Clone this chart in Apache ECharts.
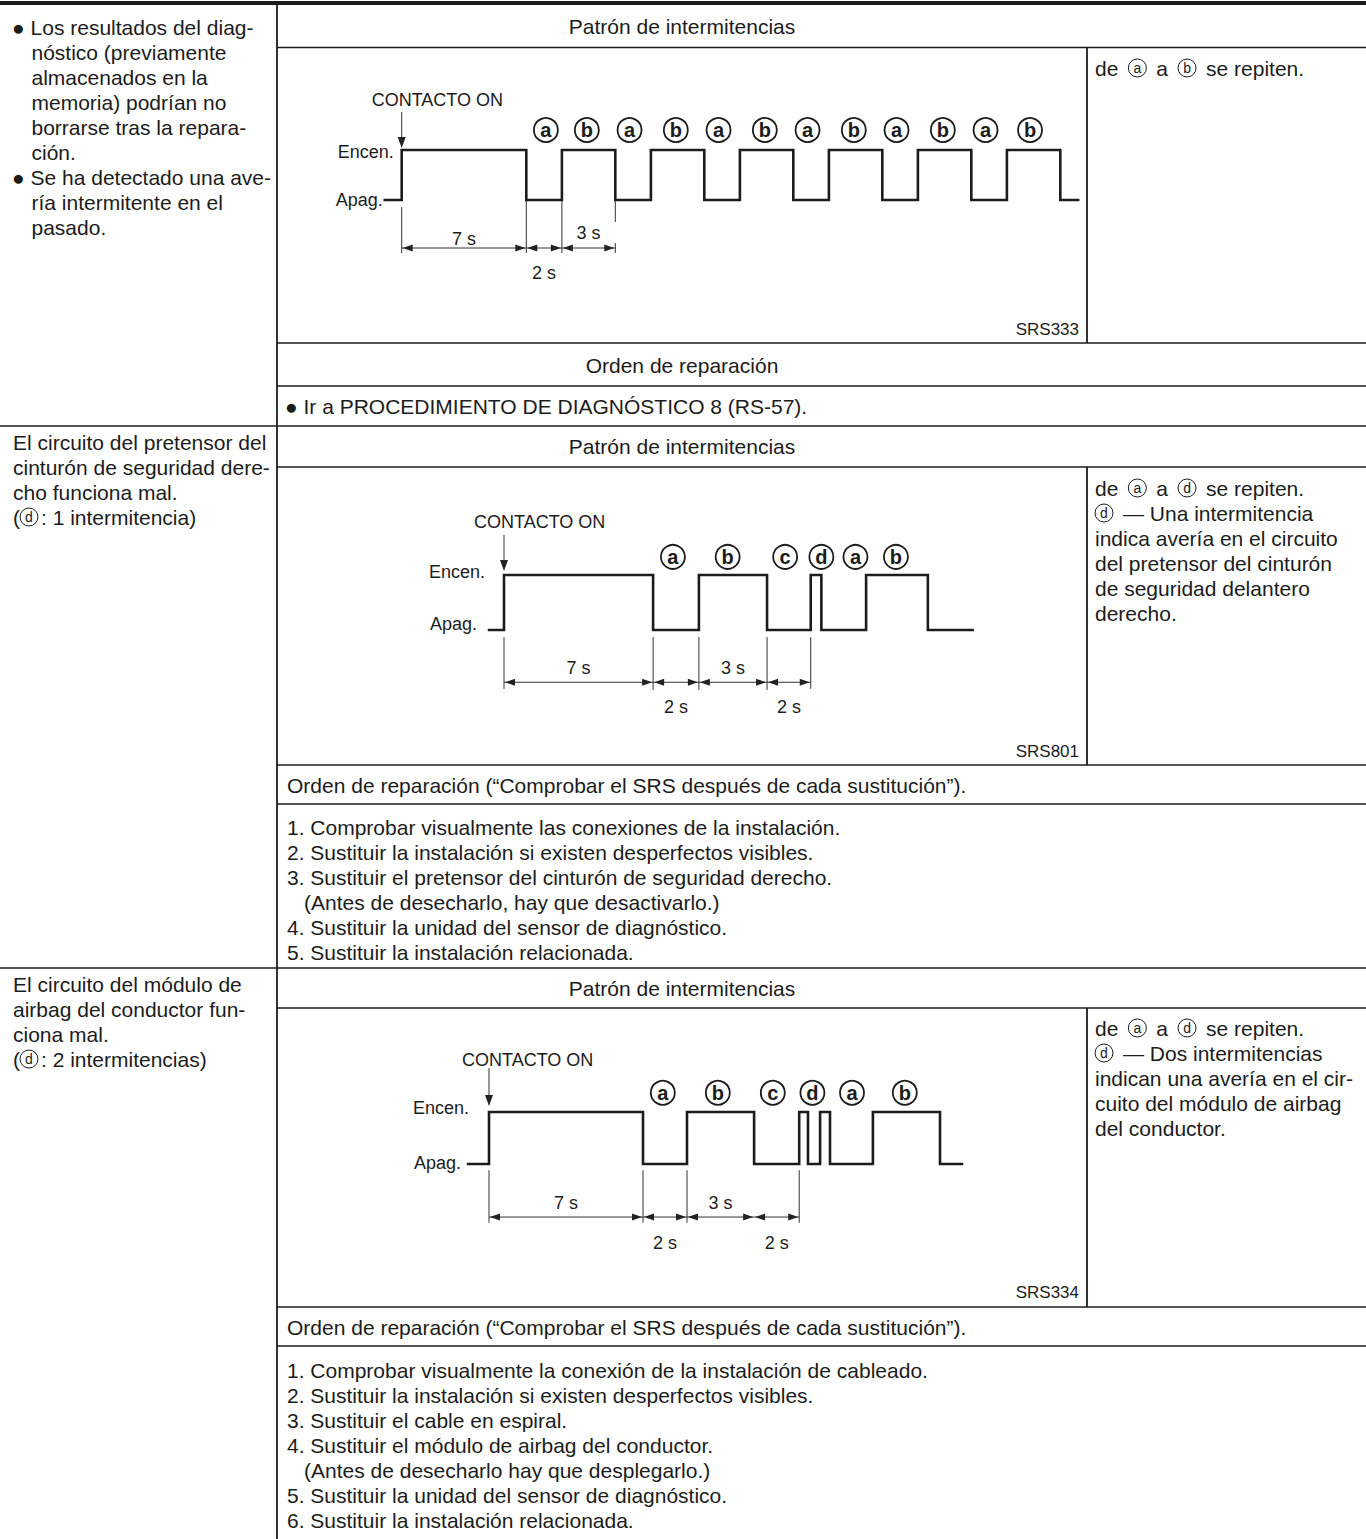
<!DOCTYPE html>
<html><head><meta charset="utf-8">
<script src="https://cdn.jsdelivr.net/npm/echarts@6/dist/echarts.min.js"></script>
<style>html,body{margin:0;padding:0;background:#fff}#c{width:1366px;height:1539px}</style>
</head><body><div id="c"></div>
<script>
// ---------------- DATA ----------------
// Diagram 1 (SRS333): waveform transition times (s) and levels (1 = Encen., 0 = Apag.)
const wave1T = [-0.95, 0, 7, 9, 12, 14, 17, 19, 22, 24, 27, 29, 32, 34, 37, 38];
const wave1V = [0, 1, 0, 1, 0, 1, 0, 1, 0, 1, 0, 1, 0, 1, 0, 0];
const marks1T = [8.1, 10.4, 12.8, 15.4, 17.8, 20.4, 22.8, 25.4, 27.8, 30.4, 32.8, 35.3];
const marks1L = ['a','b','a','b','a','b','a','b','a','b','a','b'];
const dims1 = [[0, 7], [7, 9], [9, 12]];
const dims1Txt = ['7 s', '2 s', '3 s'];
const ext1 = [[0, -0.14, -1.06], [7, 0, -1.06], [9, 0, -1.06], [12, 0, -0.44], [12, -0.86, -1.06]];

// Diagram 2 (SRS801)
const wave2T = [-0.7, 0, 7, 9.15, 12.35, 14.4, 14.9, 17, 19.9, 22];
const wave2V = [0, 1, 0, 1, 0, 1, 0, 1, 0, 0];
const marks2T = [7.93, 10.5, 13.2, 14.9, 16.5, 18.4];
const marks2L = ['a','b','c','d','a','b'];
const dims2 = [[0, 7], [7, 9.15], [9.15, 12.35], [12.35, 14.4]];
const dims2Txt = ['7 s', '2 s', '3 s', '2 s'];
const ext2 = [[0, -0.13, -1.07], [7, -0.13, -1.09], [9.15, -0.13, -1.09], [12.35, -0.13, -1.09], [14.4, -0.13, -1.07]];

// Diagram 3 (SRS334)
const wave3T = [-0.95, 0, 7, 9, 12.05, 14.1, 14.5, 15.05, 15.5, 17.45, 20.5, 21.5];
const wave3V = [0, 1, 0, 1, 0, 1, 0, 1, 0, 1, 0, 0];
const marks3T = [7.9, 10.4, 12.9, 14.7, 16.5, 18.9];
const marks3L = ['a','b','c','d','a','b'];
const dims3 = [[0, 7], [7, 9], [9, 12.05], [12.05, 14.1]];
const dims3Txt = ['7 s', '2 s', '3 s', '2 s'];
const ext3 = [[0, -0.12, -1.13], [7, -0.12, -1.13], [9, -0.12, -1.13], [14.1, -0.12, -1.13]];

const levelLabels = ['Encen.', 'Apag.'];
const figCodes = ['SRS333', 'SRS801', 'SRS334'];

// Texts
const left1 = ['● Los resultados del diag-', 'nóstico (previamente', 'almacenados en la', 'memoria) podrían no',
  'borrarse tras la repara-', 'ción.', '● Se ha detectado una ave-', 'ría intermitente en el', 'pasado.'];
const left2 = ['El circuito del pretensor del', 'cinturón de seguridad dere-', 'cho funciona mal.', '({c|d}{s| }: 1 intermitencia)'];
const left3 = ['El circuito del módulo de', 'airbag del conductor fun-', 'ciona mal.', '({c|d}{s| }: 2 intermitencias)'];
const right1 = ['de{g| }{c|a}{g| }a{g| }{c|b}{g| }se repiten.'];
const right2 = ['de{g| }{c|a}{g| }a{g| }{c|d}{g| }se repiten.', '{c|d}{g| }— Una intermitencia', 'indica avería en el circuito',
  'del pretensor del cinturón', 'de seguridad delantero', 'derecho.'];
const right3 = ['de{g| }{c|a}{g| }a{g| }{c|d}{g| }se repiten.', '{c|d}{g| }— Dos intermitencias', 'indican una avería en el cir-',
  'cuito del módulo de airbag', 'del conductor.'];
const items2 = ['1. Comprobar visualmente las conexiones de la instalación.',
  '2. Sustituir la instalación si existen desperfectos visibles.',
  '3. Sustituir el pretensor del cinturón de seguridad derecho.',
  '(Antes de desecharlo, hay que desactivarlo.)',
  '4. Sustituir la unidad del sensor de diagnóstico.',
  '5. Sustituir la instalación relacionada.'];
const items3 = ['1. Comprobar visualmente la conexión de la instalación de cableado.',
  '2. Sustituir la instalación si existen desperfectos visibles.',
  '3. Sustituir el cable en espiral.',
  '4. Sustituir el módulo de airbag del conductor.',
  '(Antes de desecharlo hay que desplegarlo.)',
  '5. Sustituir la unidad del sensor de diagnóstico.',
  '6. Sustituir la instalación relacionada.'];
const headPattern = 'Patrón de intermitencias';
const headOrder = 'Orden de reparación';
const headOrder2 = 'Orden de reparación (“Comprobar el SRS después de cada sustitución”).';
const goTo = '● Ir a PROCEDIMIENTO DE DIAGNÓSTICO 8 (RS-57).';

// ---------------- LAYOUT / STYLE ----------------
const FONT = "'Liberation Sans', Arial, Helvetica, sans-serif";
const INK = '#1c1c1c';
const FS = 21, LH = 25;

const diagrams = [
  { waveT: wave1T, waveV: wave1V, marksT: marks1T, marksL: marks1L, dims: dims1, dimsTxt: dims1Txt, ext: ext1,
    markY: 1.4, arrowY: -0.96, dimOff: [-9, 25, -15],
    L: { t0px: 401.7, pps: 17.8, xMin: -2, xMax: 39, lowPx: 200, ppu: 50 },
    A: { enDx: -8, enDy: 2, apDx: -19, apDy: 0, coDx: -30, coDy: -50, arTop: -38, arTip: -2 } },
  { waveT: wave2T, waveV: wave2V, marksT: marks2T, marksL: marks2L, dims: dims2, dimsTxt: dims2Txt, ext: ext2,
    markY: 1.33, arrowY: -0.95, dimOff: [-14, 25, -14, 25],
    L: { t0px: 504, pps: 21.3, xMin: -2, xMax: 24, lowPx: 630, ppu: 55 },
    A: { enDx: -19, enDy: -3, apDx: -27, apDy: -6, coDx: -30, coDy: -53, arTop: -40, arTip: -4 } },
  { waveT: wave3T, waveV: wave3V, marksT: marks3T, marksL: marks3L, dims: dims3, dimsTxt: dims3Txt, ext: ext3,
    markY: 1.37, arrowY: -1.02, dimOff: [-14, 26, -14, 26],
    L: { t0px: 489, pps: 22, xMin: -2, xMax: 24, lowPx: 1164, ppu: 52 },
    A: { enDx: -20, enDy: -4, apDx: -28, apDy: -1, coDx: -27, coDy: -52, arTop: -44, arTip: -6 } }
];

const rich = {
  c: { fontSize: 14, fontFamily: FONT, color: INK, width: 18, height: 18, lineHeight: 18, borderRadius: 10,
       borderColor: INK, borderWidth: 1, align: 'center', verticalAlign: 'middle' },
  s: { width: 3, fontSize: FS, fontFamily: FONT, verticalAlign: 'middle' },
  g: { width: 10, fontSize: FS, fontFamily: FONT, verticalAlign: 'middle' }
};

const g = [];
function hline(x1, x2, y, w) { g.push({ type: 'line', silent: true, shape: { x1, y1: y, x2, y2: y }, style: { stroke: INK, lineWidth: w || 1.6 } }); }
function vline(x, y1, y2, w) { g.push({ type: 'line', silent: true, shape: { x1: x, y1, x2: x, y2 }, style: { stroke: INK, lineWidth: w || 1.8 } }); }
function txt(text, x, y, align, size) {
  g.push({ type: 'text', silent: true, x, y, style: { text, rich, fill: INK, fontSize: size || FS, fontFamily: FONT,
    font: (size || FS) + 'px ' + FONT, textAlign: align || 'left', textVerticalAlign: 'middle', align: align || 'left', verticalAlign: 'middle', lineHeight: LH } });
}
function lines(arr, x, y0, indentX) {
  arr.forEach((t, i) => {
    let xx = x;
    if (indentX !== undefined && !t.startsWith('●')) xx = indentX;
    txt(t, xx, y0 + i * LH);
  });
}

// Table rules
hline(0, 1366, 3, 4);
vline(277, 3, 1539);
[47.5, 343, 386, 467, 765, 804, 1008, 1307, 1346].forEach(y => hline(277, 1366, y));
[426, 968].forEach(y => hline(0, 1366, y));
vline(1087, 47.5, 343); vline(1087, 467, 765); vline(1087, 1008, 1307);

// Headers
[26, 446.5, 988].forEach(y => txt(headPattern, 682, y, 'center'));
txt(headOrder, 682, 365, 'center');
txt(goTo, 285, 406);
txt(headOrder2, 287, 785);
txt(headOrder2, 287, 1327);

// Left column
lines(left1, 12, 27, 31.5);
lines(left2, 13, 442);
lines(left3, 13, 984);
// Right column
lines(right1, 1095, 68);
lines(right2, 1095, 488);
lines(right3, 1095, 1028);
// Item lists
items2.forEach((t, i) => txt(t, t.startsWith('(') ? 304 : 287, 827 + i * LH));
items3.forEach((t, i) => txt(t, t.startsWith('(') ? 304 : 287, 1370 + i * LH));
// Figure codes
[329, 751, 1292].forEach((y, i) => txt(figCodes[i], 1079, y, 'right', 17));

// ---------------- CHART ----------------
const grids = [], xAxes = [], yAxes = [], series = [];
const TF = '18px ' + FONT;

diagrams.forEach((d, k) => {
  const L = d.L, yMin = -2, yMax = 2;
  grids.push({ left: L.t0px + L.xMin * L.pps, width: (L.xMax - L.xMin) * L.pps,
               top: L.lowPx - yMax * L.ppu, height: (yMax - yMin) * L.ppu, containLabel: false });
  xAxes.push({ type: 'value', gridIndex: k, min: L.xMin, max: L.xMax, show: false });
  yAxes.push({ type: 'value', gridIndex: k, min: yMin, max: yMax, show: false });
  const ax = { xAxisIndex: k, yAxisIndex: k, silent: true, animation: false };

  series.push(Object.assign({ type: 'line', step: 'end', symbol: 'none', clip: false,
    data: d.waveT.map((t, i) => [t, d.waveV[i]]),
    lineStyle: { color: INK, width: 2.6, cap: 'square', join: 'miter' }, z: 2 }, ax));

  series.push(Object.assign({ type: 'scatter', clip: false, symbol: 'circle', symbolSize: 24,
    data: d.marksT.map(t => [t, d.markY]),
    itemStyle: { color: '#fff', borderColor: INK, borderWidth: 1.8, opacity: 1 },
    label: { show: true, position: 'inside', formatter: p => d.marksL[p.dataIndex], fontSize: 20,
      fontWeight: 'bold', fontFamily: FONT, color: INK, offset: [0, 0] }, z: 3 }, ax));

  // extension lines
  series.push(Object.assign({ type: 'custom', clip: false, data: d.ext,
    renderItem: (params, api) => {
      const a = api.coord([api.value(0), api.value(1)]);
      const b = api.coord([api.value(0), api.value(2)]);
      return { type: 'line', shape: { x1: a[0], y1: a[1], x2: b[0], y2: b[1] }, style: { stroke: '#333', lineWidth: 1 } };
    } }, ax));

  // dimension arrows
  series.push(Object.assign({ type: 'custom', clip: false, data: d.dims,
    renderItem: (params, api) => {
      const a = api.coord([api.value(0), d.arrowY]);
      const b = api.coord([api.value(1), d.arrowY]);
      const y = a[1], Lh = 10, H = 3.5;
      const off = d.dimOff[params.dataIndex];
      return { type: 'group', children: [
        { type: 'line', shape: { x1: a[0], y1: y, x2: b[0], y2: y }, style: { stroke: '#333', lineWidth: 1 } },
        { type: 'polygon', shape: { points: [[a[0] + 1, y], [a[0] + 1 + Lh, y - H], [a[0] + 1 + Lh, y + H]] }, style: { fill: '#222' } },
        { type: 'polygon', shape: { points: [[b[0] - 1, y], [b[0] - 1 - Lh, y - H], [b[0] - 1 - Lh, y + H]] }, style: { fill: '#222' } },
        { type: 'text', x: (a[0] + b[0]) / 2, y: y + off, style: { text: d.dimsTxt[params.dataIndex], fill: INK,
          font: TF, textAlign: 'center', textVerticalAlign: 'middle' } }
      ] };
    } }, ax));

  // level labels + CONTACTO ON arrow
  series.push(Object.assign({ type: 'custom', clip: false, data: [[0, 1]],
    renderItem: (params, api) => {
      const A = d.A;
      const hi = api.coord([0, 1]), lo = api.coord([0, 0]);
      const x = hi[0];
      const top = hi[1] + A.arTop, tip = hi[1] + A.arTip;
      return { type: 'group', children: [
        { type: 'text', x: x + A.enDx, y: hi[1] + A.enDy, style: { text: levelLabels[0], fill: INK, font: TF, textAlign: 'right', textVerticalAlign: 'middle' } },
        { type: 'text', x: x + A.apDx, y: lo[1] + A.apDy, style: { text: levelLabels[1], fill: INK, font: TF, textAlign: 'right', textVerticalAlign: 'middle' } },
        { type: 'text', x: x + A.coDx, y: hi[1] + A.coDy, style: { text: 'CONTACTO ON', fill: INK, font: TF, textAlign: 'left', textVerticalAlign: 'middle' } },
        { type: 'line', shape: { x1: x, y1: top, x2: x, y2: tip - 8 }, style: { stroke: '#333', lineWidth: 1 } },
        { type: 'polygon', shape: { points: [[x, tip], [x - 4, tip - 11], [x + 4, tip - 11]] }, style: { fill: '#222' } }
      ] };
    } }, ax));
});

const chart = echarts.init(document.getElementById('c'), null, { renderer: 'svg', width: 1366, height: 1539 });
chart.setOption({
  animation: false,
  backgroundColor: '#fff',
  grid: grids, xAxis: xAxes, yAxis: yAxes, series,
  graphic: { elements: g }
});
</script>
</body></html>
